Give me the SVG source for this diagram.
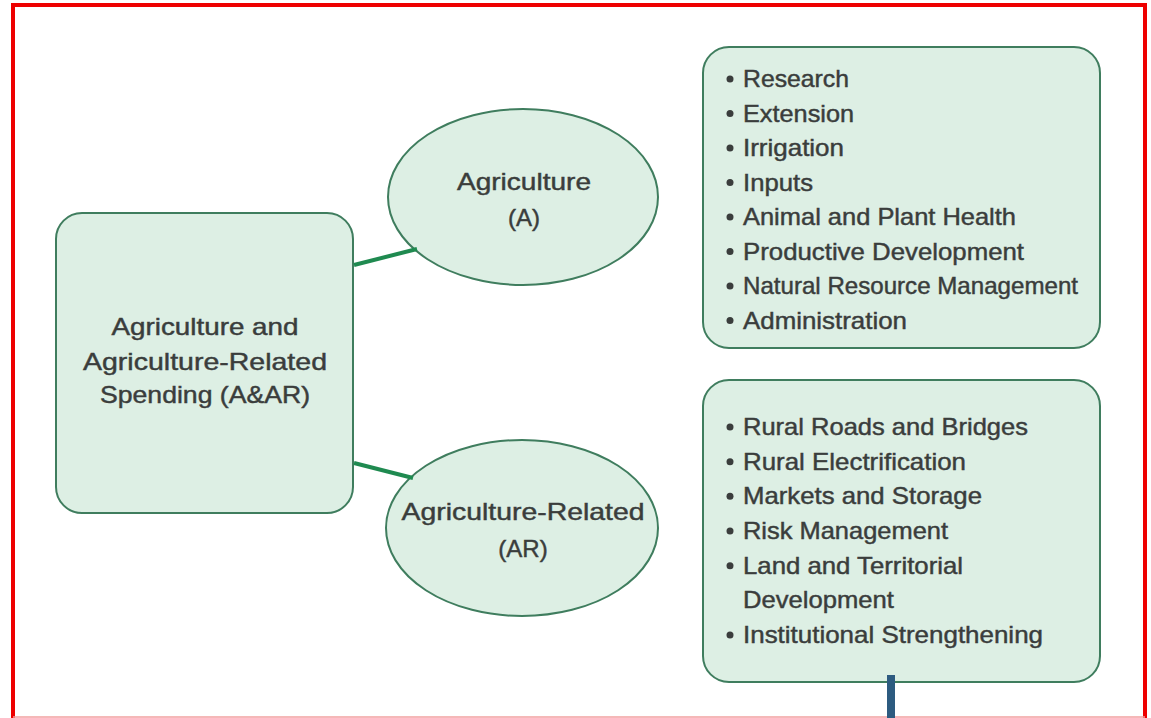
<svg xmlns="http://www.w3.org/2000/svg" width="1151" height="718" viewBox="0 0 1151 718">
<style>
.box{fill:#ddefe4;stroke:#3f7d5e;stroke-width:2}
.t{font-family:"Liberation Sans",Arial,sans-serif;font-size:24px;fill:#3a3d3c;stroke:#3a3d3c;stroke-width:0.45}
.c{text-anchor:middle}
.conn{stroke:#1f8a50;stroke-width:4;fill:none}
.dot{fill:#3a3d3c}
</style>
<rect x="0" y="0" width="1151" height="718" fill="#ffffff"/>
<g id="frame">
<path d="M13 718 V5 H1145 V718" fill="none" stroke="#ee0000" stroke-width="4"/>
<line x1="13" y1="717" x2="1145" y2="717" stroke="#f2a0a0" stroke-width="1.5"/>
</g>
<g id="root">
<rect class="box" x="56" y="213" width="297" height="300" rx="26"/>
<text class="t c" x="205" y="335" textLength="187" lengthAdjust="spacingAndGlyphs">Agriculture and</text>
<text class="t c" x="205" y="370" textLength="244" lengthAdjust="spacingAndGlyphs">Agriculture-Related</text>
<text class="t c" x="205" y="403" textLength="210" lengthAdjust="spacingAndGlyphs">Spending (A&amp;AR)</text>
</g>
<g id="agri">
<ellipse class="box" cx="523" cy="197" rx="135" ry="88"/>
<text class="t c" x="524" y="190" textLength="134" lengthAdjust="spacingAndGlyphs">Agriculture</text>
<text class="t c" x="524" y="226">(A)</text>
</g>
<g id="agrirel">
<ellipse class="box" cx="522" cy="528" rx="136" ry="88"/>
<text class="t c" x="523" y="520" textLength="243" lengthAdjust="spacingAndGlyphs">Agriculture-Related</text>
<text class="t c" x="523" y="557">(AR)</text>
</g>
<g id="listA">
<rect class="box" x="703" y="47" width="397" height="301" rx="26"/>
<circle class="dot" cx="730" cy="79" r="3.5"/>
<text class="t" x="743" y="87" textLength="106" lengthAdjust="spacingAndGlyphs">Research</text>
<circle class="dot" cx="730" cy="113.5" r="3.5"/>
<text class="t" x="743" y="121.5" textLength="111" lengthAdjust="spacingAndGlyphs">Extension</text>
<circle class="dot" cx="730" cy="148" r="3.5"/>
<text class="t" x="743" y="156" textLength="101" lengthAdjust="spacingAndGlyphs">Irrigation</text>
<circle class="dot" cx="730" cy="182.5" r="3.5"/>
<text class="t" x="743" y="190.5" textLength="70" lengthAdjust="spacingAndGlyphs">Inputs</text>
<circle class="dot" cx="730" cy="217" r="3.5"/>
<text class="t" x="743" y="225" textLength="273" lengthAdjust="spacingAndGlyphs">Animal and Plant Health</text>
<circle class="dot" cx="730" cy="251.5" r="3.5"/>
<text class="t" x="743" y="259.5" textLength="281" lengthAdjust="spacingAndGlyphs">Productive Development</text>
<circle class="dot" cx="730" cy="286" r="3.5"/>
<text class="t" x="743" y="294" textLength="335" lengthAdjust="spacingAndGlyphs">Natural Resource Management</text>
<circle class="dot" cx="730" cy="320.5" r="3.5"/>
<text class="t" x="743" y="328.5" textLength="164" lengthAdjust="spacingAndGlyphs">Administration</text>
</g>
<g id="listAR">
<rect class="box" x="703" y="380" width="397" height="302" rx="26"/>
<circle class="dot" cx="730" cy="427" r="3.5"/>
<text class="t" x="743" y="435" textLength="285" lengthAdjust="spacingAndGlyphs">Rural Roads and Bridges</text>
<circle class="dot" cx="730" cy="461.7" r="3.5"/>
<text class="t" x="743" y="469.7" textLength="223" lengthAdjust="spacingAndGlyphs">Rural Electrification</text>
<circle class="dot" cx="730" cy="496.3" r="3.5"/>
<text class="t" x="743" y="504.3" textLength="239" lengthAdjust="spacingAndGlyphs">Markets and Storage</text>
<circle class="dot" cx="730" cy="531" r="3.5"/>
<text class="t" x="743" y="539" textLength="205" lengthAdjust="spacingAndGlyphs">Risk Management</text>
<circle class="dot" cx="730" cy="565.7" r="3.5"/>
<text class="t" x="743" y="573.7" textLength="220" lengthAdjust="spacingAndGlyphs">Land and Territorial</text>
<text class="t" x="743" y="608.3" textLength="151" lengthAdjust="spacingAndGlyphs">Development</text>
<circle class="dot" cx="730" cy="635" r="3.5"/>
<text class="t" x="743" y="643" textLength="300" lengthAdjust="spacingAndGlyphs">Institutional Strengthening</text>
</g>
<g id="connectors">
<line class="conn" x1="354" y1="265" x2="417" y2="249"/>
<line class="conn" x1="354" y1="463" x2="413" y2="478"/>
<line x1="891" y1="675" x2="891" y2="718" stroke="#2d5b80" stroke-width="8"/>
</g>
</svg>
